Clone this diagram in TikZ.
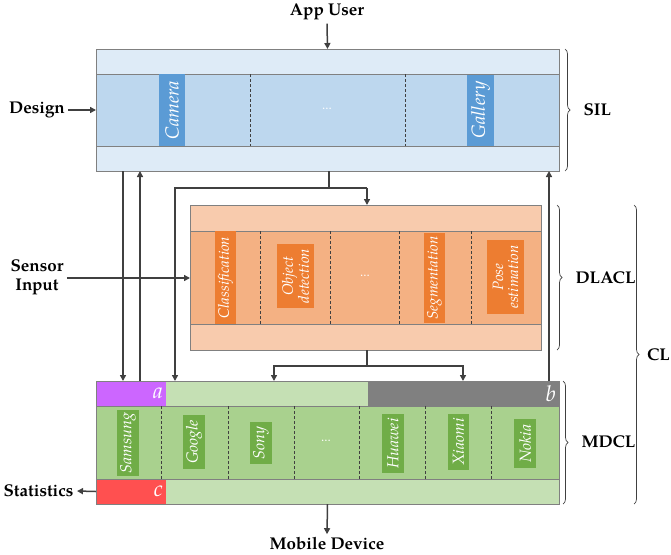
\documentclass[tikz,border=0pt]{standalone}
\usepackage{fontspec}
\setmainfont{TeX Gyre Pagella}
\usetikzlibrary{arrows.meta,decorations.pathreplacing,calc}
\definecolor{silL}{HTML}{DEEBF7}
\definecolor{silM}{HTML}{BDD7EE}
\definecolor{silB}{HTML}{5B9BD5}
\definecolor{dlL}{HTML}{F8CBAD}
\definecolor{dlM}{HTML}{F4B183}
\definecolor{dlB}{HTML}{ED7D31}
\definecolor{mdL}{HTML}{C5E0B4}
\definecolor{mdM}{HTML}{A9D18E}
\definecolor{mdB}{HTML}{70AD47}
\definecolor{apurple}{HTML}{CC66FF}
\definecolor{bgray}{HTML}{808080}
\definecolor{cred}{HTML}{FF5050}
\definecolor{edge}{HTML}{808080}
\definecolor{ink}{HTML}{404040}
\begin{document}
\begin{tikzpicture}[x=1pt,y=-1pt,
  band/.style={draw=edge,line width=0.9pt,anchor=north west,inner sep=0pt,outer sep=0pt},
  patch/.style={anchor=north west,inner sep=0pt,outer sep=0pt},
  tag/.style={rotate=90,inner sep=0pt,text=white,font=\fontsize{19}{20}\selectfont\itshape,align=center},
  dltag/.style={tag,font=\fontsize{15}{15}\selectfont\itshape},
  mdtag/.style={tag,font=\fontsize{16}{17}\selectfont\itshape},
  dots/.style={text=white,font=\fontsize{13}{13}\selectfont},
  sep/.style={draw=ink,dashed,dash pattern=on 3pt off 2pt,line width=0.7pt},
  conn/.style={draw=ink,line width=1.5pt,-{Triangle[length=6pt,width=6pt]}},
  line/.style={draw=ink,line width=1.5pt},
  lbl/.style={font=\fontsize{17}{19}\selectfont\bfseries,text=black,align=center},
  brc/.style={draw=ink,line width=0.7pt,decorate,decoration={brace,amplitude=5pt}},
  letter/.style={text=white,font=\fontsize{22}{22}\selectfont\itshape,inner sep=3pt}
]
\useasboundingbox (0,0) rectangle (671,554);

% ---------- SIL ----------
\node[band,fill=silL,minimum width=463pt,minimum height=25pt] (siltop) at (96,49) {};
\node[band,fill=silM,minimum width=463pt,minimum height=72pt] (silmid) at (96,74) {};
\node[band,fill=silL,minimum width=463pt,minimum height=25pt] (silbot) at (96,146) {};
\coordinate (s1) at (250,0);
\coordinate (s2) at (405,0);
\draw[sep] (silmid.north -| s1) -- (silmid.south -| s1);
\draw[sep] (silmid.north -| s2) -- (silmid.south -| s2);
\node[tag,fill=silB,minimum width=72pt,minimum height=26pt] (camera) at (172,110) {Camera};
\node[tag,fill=silB,minimum width=71pt,minimum height=27pt] (gallery) at (480.5,110) {Gallery};
\node[dots] (sildots) at (327,109) {...};

% ---------- DLACL ----------
\node[band,fill=dlL,minimum width=351pt,minimum height=26pt] (dltop) at (190,205) {};
\node[band,fill=dlM,minimum width=351pt,minimum height=93pt] (dlmid) at (190,231) {};
\node[band,fill=dlL,minimum width=351pt,minimum height=26pt] (dlbot) at (190,324) {};
\foreach \xx [count=\i] in {260,330,399,471} {
  \coordinate (d\i) at (\xx,0);
  \draw[sep] (dlmid.north -| d\i) -- (dlmid.south -| d\i);
}
\node[dltag,fill=dlB,minimum width=93pt,minimum height=21pt] (classif) at (225.5,277.5) {Classification};
\node[dltag,fill=dlB,minimum width=64pt,minimum height=37pt] (objdet) at (295.5,276) {Object\\detection};
\node[dots] (dldots) at (365,276) {...};
\node[dltag,fill=dlB,minimum width=90pt,minimum height=21pt] (segm) at (434.5,278) {Segmentation};
\node[dltag,fill=dlB,minimum width=74pt,minimum height=37pt] (pose) at (505.5,277) {Pose\\estimation};

% ---------- MDCL ----------
\node[band,fill=mdL,minimum width=463pt,minimum height=25pt] (mdtop) at (96,381) {};
\node[patch,fill=apurple,minimum width=70pt,minimum height=25pt] (mda) at (96,381) {};
\node[patch,fill=bgray,minimum width=191pt,minimum height=25pt] (mdb) at (368,381) {};
\draw[draw=edge,line width=0.9pt] (mdtop.north west) rectangle (mdtop.south east);
\node[letter,anchor=east] (la) at (mda.east) {a};
\node[letter,anchor=east] (lb) at (mdb.east) {b};
\node[band,fill=mdM,minimum width=463pt,minimum height=73pt] (mdmid) at (96,406) {};
\node[band,fill=mdL,minimum width=463pt,minimum height=25pt] (mdbot) at (96,479) {};
\node[patch,fill=cred,minimum width=70pt,minimum height=25pt] (mdc) at (96,479) {};
\draw[draw=edge,line width=0.9pt] (mdbot.north west) rectangle (mdbot.south east);
\node[letter,anchor=east] (lc) at (mdc.east) {c};
\foreach \xx [count=\i] in {161,228,294,359,425,491} {
  \coordinate (m\i) at (\xx,0);
  \draw[sep] (mdmid.north -| m\i) -- (mdmid.south -| m\i);
}
\node[mdtag,fill=mdB,minimum width=66pt,minimum height=22pt] (samsung) at (128,443) {Samsung};
\node[mdtag,fill=mdB,minimum width=54pt,minimum height=22pt] (google) at (194,442) {Google};
\node[mdtag,fill=mdB,minimum width=42pt,minimum height=22pt] (sony) at (261,443) {Sony};
\node[dots] (mddots) at (326,441) {...};
\node[mdtag,fill=mdB,minimum width=59pt,minimum height=22pt] (huawei) at (393,443.5) {Huawei};
\node[mdtag,fill=mdB,minimum width=56pt,minimum height=21pt] (xiaomi) at (458.5,442) {Xiaomi};
\node[mdtag,fill=mdB,minimum width=49pt,minimum height=22pt] (nokia) at (525,443.5) {Nokia};

% ---------- outside labels ----------
\node[lbl] (appuser) at (327,12) {App User};
\node[lbl] (design) at (37,110) {Design};
\node[lbl] (sensor) at (37,277) {Sensor\\Input};
\node[lbl,anchor=east] (stats) at (77,491) {Statistics};
\node[lbl] (mobile) at (327,544) {Mobile Device};

\draw[conn] (appuser.south) -- (siltop.north);
\draw[conn] (design.east) -- (silmid.west);
\coordinate (sy) at (0,278);
\draw[conn] (sensor.east |- sy) -- (dlmid.west |- sy);
\draw[conn] (mdc.west) -- (stats.east);
\draw[conn] (mdbot.south) -- (mobile.north);

% ---------- connectors between layers ----------
\coordinate (xa) at (123,0);
\coordinate (xb) at (140,0);
\coordinate (xc) at (175,0);
\coordinate (xd) at (329,0);
\coordinate (xe) at (367,0);
\coordinate (xf) at (274,0);
\coordinate (xg) at (463,0);
\coordinate (xh) at (549,0);
\coordinate (ya) at (0,188);
\coordinate (yb) at (0,366);
\draw[conn] (silbot.south -| xa) -- (mdtop.north -| xa);
\draw[conn] (mdtop.north -| xb) -- (silbot.south -| xb);
\draw[conn] (mdtop.north -| xh) -- (silbot.south -| xh);
\draw[line] (silbot.south -| xd) -- (xd |- ya);
\draw[conn] (xe |- ya) -- (xc |- ya) -- (mdtop.north -| xc);
\draw[conn] (xe |- ya) -- (dltop.north -| xe);
\draw[line] (dlbot.south -| xe) -- (xe |- yb);
\draw[conn] (xe |- yb) -- (xf |- yb) -- (mdtop.north -| xf);
\draw[conn] (xe |- yb) -- (xg |- yb) -- (mdtop.north -| xg);

% ---------- braces ----------
\coordinate (bs1) at (565,49);  \coordinate (bs2) at (565,171);
\coordinate (bd1) at (557,205); \coordinate (bd2) at (557,350);
\coordinate (bm1) at (563,381); \coordinate (bm2) at (563,504);
\coordinate (bc1) at (634,205); \coordinate (bc2) at (634,504);
\draw[brc] (bs1) -- (bs2);
\draw[brc] (bd1) -- (bd2);
\draw[brc] (bm1) -- (bm2);
\draw[brc] (bc1) -- (bc2);
\node[lbl,anchor=west] (sil) at (580,110) {SIL};
\node[lbl,anchor=west] (dlacl) at (572,278) {DLACL};
\node[lbl,anchor=west] (mdcl) at (578,442) {MDCL};
\node[lbl,anchor=east,inner xsep=1pt] (cl) at (671,355) {CL};
\end{tikzpicture}
\end{document}
